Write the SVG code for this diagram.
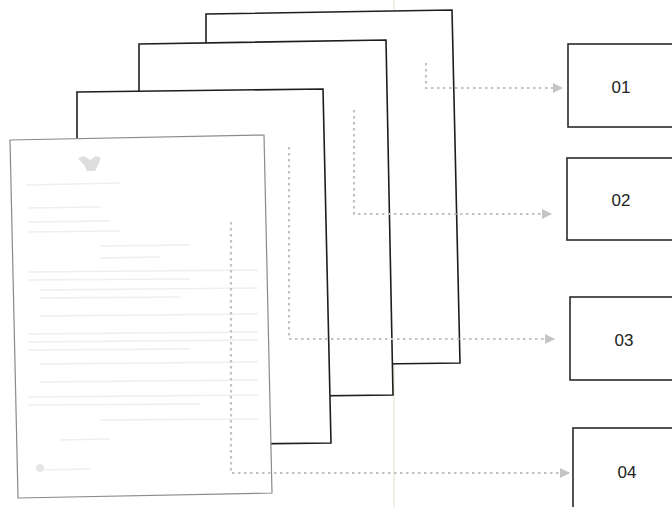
<svg xmlns="http://www.w3.org/2000/svg" width="672" height="507" viewBox="0 0 672 507">
<style>
.page{fill:#fff;stroke:#1e1e1e;stroke-width:1.6;stroke-linejoin:miter}
.front{fill:#fff;stroke:#8a8a8a;stroke-width:1.2}
.box{fill:#fff;stroke:#2a2a2a;stroke-width:1.6}
.lbl{font-family:"Liberation Sans","DejaVu Sans",sans-serif;font-size:17px;fill:#222;text-anchor:middle;dominant-baseline:central}
.dot{fill:none;stroke:#c2c2c2;stroke-width:2.2;stroke-dasharray:2.5 3.5}
.faint{stroke:#efefef;stroke-width:1.5}
</style>
<defs>
<marker id="arr" markerWidth="10" markerHeight="10" refX="9" refY="5" orient="auto" markerUnits="userSpaceOnUse">
<path d="M0,0 L10,5 L0,10 Z" fill="#c4c4c4"/>
</marker>
</defs>
<rect width="672" height="507" fill="#fff"/>
<line x1="394" y1="0" x2="394" y2="507" stroke="#f1f3e2" stroke-width="2"/>
<g id="page4"><polygon class="page" points="206,14 452,10 460,363 206,366"/></g>
<g id="page3"><polygon class="page" points="139,44 386,40 393,395 139,398"/></g>
<g id="page2"><polygon class="page" points="77,92 323,89 331,443 77,446"/></g>
<g id="page1">
<polygon class="front" points="10,140 264,135 272,493 18,498"/>
<path d="M78,158 l6,-2 l6,4 l6,-4 l5,2 l-3,7 l-3,6 h-8 l-3,-6 z" fill="#dedede"/>
<g class="faint">
<line x1="26" y1="185" x2="120" y2="183"/>
<line x1="28" y1="208" x2="100" y2="207"/>
<line x1="28" y1="222" x2="110" y2="221"/>
<line x1="28" y1="232" x2="120" y2="231"/>
<line x1="100" y1="246" x2="190" y2="245"/>
<line x1="100" y1="258" x2="160" y2="257"/>
<line x1="28" y1="272" x2="258" y2="270"/>
<line x1="28" y1="280" x2="190" y2="279"/>
<line x1="40" y1="290" x2="258" y2="288"/>
<line x1="40" y1="298" x2="180" y2="297"/>
<line x1="40" y1="316" x2="258" y2="314"/>
<line x1="28" y1="334" x2="258" y2="332"/>
<line x1="28" y1="342" x2="258" y2="340"/>
<line x1="28" y1="350" x2="190" y2="349"/>
<line x1="40" y1="364" x2="258" y2="362"/>
<line x1="40" y1="382" x2="258" y2="380"/>
<line x1="28" y1="397" x2="258" y2="395"/>
<line x1="28" y1="405" x2="200" y2="404"/>
<line x1="100" y1="420" x2="258" y2="419"/>
<line x1="60" y1="440" x2="110" y2="439"/>
<line x1="36" y1="470" x2="90" y2="469"/>
</g>
<circle cx="40" cy="468" r="4" fill="#e6e6e6"/>
</g>
<g id="box01"><rect class="box" x="568" y="44" width="110" height="83"/><text class="lbl" x="621" y="87">01</text></g>
<g id="box02"><rect class="box" x="567" y="158" width="110" height="82"/><text class="lbl" x="621" y="200">02</text></g>
<g id="box03"><rect class="box" x="570" y="297" width="110" height="83"/><text class="lbl" x="624" y="340">03</text></g>
<g id="box04"><rect class="box" x="573" y="428" width="110" height="90"/><text class="lbl" x="627" y="472">04</text></g>
<g id="connectors">
<path class="dot" d="M426,63 V88 H562" marker-end="url(#arr)"/>
<path class="dot" d="M354,110 V214 H551" marker-end="url(#arr)"/>
<path class="dot" d="M289,147 V339 H554" marker-end="url(#arr)"/>
<path class="dot" d="M231,222 V473 H569" marker-end="url(#arr)"/>
</g>
</svg>
